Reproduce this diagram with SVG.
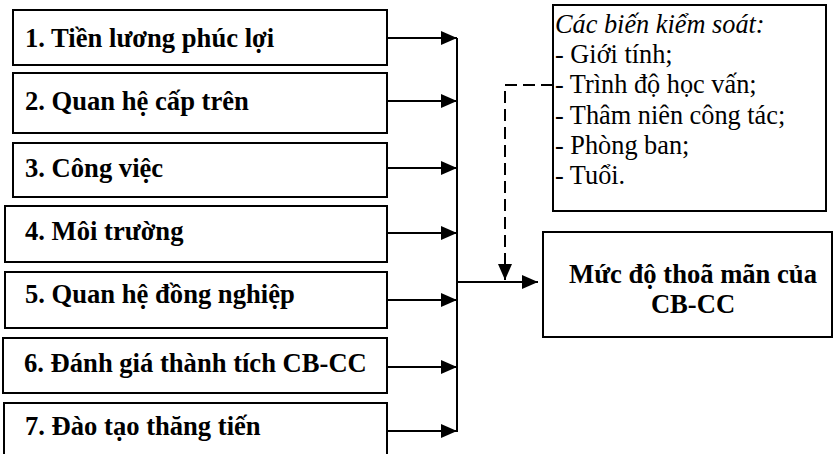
<svg xmlns="http://www.w3.org/2000/svg" width="838" height="454" viewBox="0 0 838 454">
<style>
.box{fill:#fff;stroke:#000;stroke-width:2}
.lbl{font-family:'Liberation Serif','Times New Roman',serif;font-size:26.6px;font-weight:700;fill:#000}
.ctl{font-family:'Liberation Serif','Times New Roman',serif;font-size:26.3px;fill:#000}
.ln{fill:none;stroke:#000;stroke-width:2}
.dash{fill:none;stroke:#000;stroke-width:2;stroke-dasharray:12,6}
</style>
<defs>
<marker id="ah" markerUnits="userSpaceOnUse" markerWidth="16" markerHeight="14" refX="16" refY="7" orient="auto">
<path d="M0,0 L16,7 L0,14 z" fill="#000"/>
</marker>
</defs>
<rect width="838" height="454" fill="#fff"/>
<g id="n1"><rect class="box" x="13" y="10" width="374" height="55"/><text class="lbl" x="25" y="47">1. Tiền lương phúc lợi</text></g>
<g id="n2"><rect class="box" x="13" y="73" width="374" height="60"/><text class="lbl" x="25" y="110">2. Quan hệ cấp trên</text></g>
<g id="n3"><rect class="box" x="13" y="143" width="374" height="54"/><text class="lbl" x="25" y="177">3. Công việc</text></g>
<g id="n4"><rect class="box" x="5" y="206" width="382" height="56"/><text class="lbl" x="25" y="240">4. Môi trường</text></g>
<g id="n5"><rect class="box" x="5" y="272" width="382" height="56"/><text class="lbl" x="25" y="303">5. Quan hệ đồng nghiệp</text></g>
<g id="n6"><rect class="box" x="3" y="338" width="384" height="55"/><text class="lbl" x="24" y="372">6. Đánh giá thành tích CB-CC</text></g>
<g id="n7"><rect class="box" x="4" y="403" width="383" height="58"/><text class="lbl" x="25" y="435">7. Đào tạo thăng tiến</text></g>
<g id="control"><rect class="box" x="553" y="5" width="273" height="206"/>
<text class="ctl" x="555" y="33"><tspan font-style="italic">Các biến kiểm soát:</tspan><tspan x="555" dy="30.2">- Giới tính;</tspan><tspan x="555" dy="30.2">- Trình độ học vấn;</tspan><tspan x="555" dy="30.2">- Thâm niên công tác;</tspan><tspan x="555" dy="30.2">- Phòng ban;</tspan><tspan x="555" dy="30.2">- Tuổi.</tspan></text></g>
<g id="outcome"><rect class="box" x="543" y="232" width="289" height="105"/>
<text class="lbl" x="693" y="283" text-anchor="middle">Mức độ thoã mãn của</text>
<text class="lbl" x="693" y="313" text-anchor="middle">CB-CC</text></g>
<g id="connectors">
<path class="ln" d="M387,38 H457" marker-end="url(#ah)"/>
<path class="ln" d="M387,101 H457" marker-end="url(#ah)"/>
<path class="ln" d="M387,168 H457" marker-end="url(#ah)"/>
<path class="ln" d="M387,233 H457" marker-end="url(#ah)"/>
<path class="ln" d="M387,300 H457" marker-end="url(#ah)"/>
<path class="ln" d="M387,367 H457" marker-end="url(#ah)"/>
<path class="ln" d="M387,431 H457" marker-end="url(#ah)"/>
<path class="ln" d="M457,38 V432"/>
<path class="ln" d="M457,282 H538" marker-end="url(#ah)"/>
<path class="dash" d="M553,85 H505 V266"/>
<path class="ln" d="M505,264 V280" marker-end="url(#ah)"/>
</g>
</svg>
